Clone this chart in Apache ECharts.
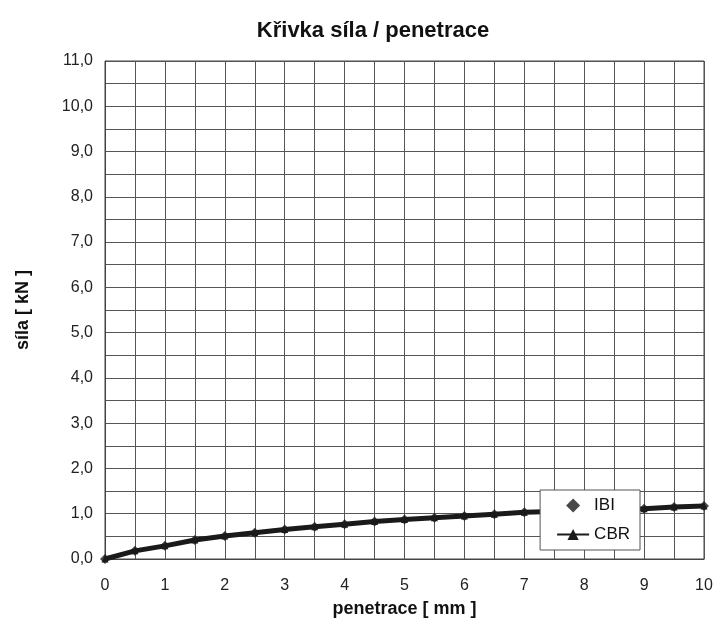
<!DOCTYPE html>
<html><head><meta charset="utf-8">
<script src="https://cdn.jsdelivr.net/npm/echarts@6/dist/echarts.min.js"></script>
<style>html,body{margin:0;padding:0;background:#fff}#c{width:714px;height:618px}</style>
</head><body><div id="c"></div>
<script>
var penetration = [0,0.5,1,1.5,2,2.5,3,3.5,4,4.5,5,5.5,6,6.5,7,7.5,8,8.5,9,9.5,10];
var ibi = [0.00,0.18,0.29,0.42,0.51,0.58,0.65,0.71,0.77,0.83,0.87,0.91,0.95,0.99,1.03,1.05,1.07,1.09,1.11,1.15,1.17];
var cbr = ibi.slice();
var titleText = 'Křivka síla / penetrace';
var xName = 'penetrace [ mm ]';
var yName = 'síla [ kN ]';

function pairs(xs, ys){ return xs.map(function(x,i){return [x, ys[i]];}); }
var font = 'Liberation Sans, Arial, sans-serif';
var chart = echarts.init(document.getElementById('c'), null, {renderer:'canvas'});
chart.setOption({
  animation:false,
  backgroundColor:'#fff',
  title:{text:titleText,left:368,top:15,textAlign:'center',
    textStyle:{fontFamily:font,fontSize:22,fontWeight:'bold',color:'#111'}},
  grid:{left:105,right:10,top:61,bottom:59,show:true,borderColor:'#444',borderWidth:1,
    outerBoundsMode:'none',containLabel:false},
  legend:{
    right:74,top:490,orient:'vertical',backgroundColor:'#fff',borderColor:'#555',borderWidth:1,
    padding:[7,10,7,16],itemGap:12,itemWidth:32,itemHeight:14,
    textStyle:{fontFamily:font,fontSize:17,color:'#111'},
    data:[{name:'IBI',icon:'path://M0,-1L1,0L0,1L-1,0Z'},{name:'CBR'}]
  },
  xAxis:{type:'value',min:0,max:10,interval:1,
    axisLine:{show:true,lineStyle:{color:'#444'}},
    axisTick:{show:false},
    axisLabel:{fontFamily:font,fontSize:16,color:'#222',margin:19},
    splitLine:{show:true,lineStyle:{color:'#555',width:1}},
    minorTick:{show:false,splitNumber:2},
    minorSplitLine:{show:true,lineStyle:{color:'#555',width:1}},
    name:xName,nameLocation:'middle',nameGap:41,
    nameTextStyle:{fontFamily:font,fontSize:18,fontWeight:'bold',color:'#111'}
  },
  yAxis:{type:'value',min:0,max:11,interval:1,
    axisLine:{show:true,lineStyle:{color:'#444'}},
    axisTick:{show:false},
    axisLabel:{fontFamily:font,fontSize:16,color:'#222',margin:12,
      formatter:function(v){return v.toFixed(1).replace('.',',');}},
    splitLine:{show:true,lineStyle:{color:'#555',width:1}},
    minorTick:{show:false,splitNumber:2},
    minorSplitLine:{show:true,lineStyle:{color:'#555',width:1}},
    name:yName,nameLocation:'middle',nameGap:73,
    nameTextStyle:{fontFamily:font,fontSize:18,fontWeight:'bold',color:'#111'}
  },
  series:[
    {name:'CBR',type:'line',data:pairs(penetration,cbr),symbol:'triangle',symbolSize:7,
      itemStyle:{color:'#1a1a1a'},lineStyle:{color:'#1a1a1a',width:5},z:2},
    {name:'IBI',type:'scatter',data:pairs(penetration,ibi),symbol:'diamond',symbolSize:10,
      itemStyle:{color:'#1a1a1a'},z:3}
  ]
});
</script></body></html>
